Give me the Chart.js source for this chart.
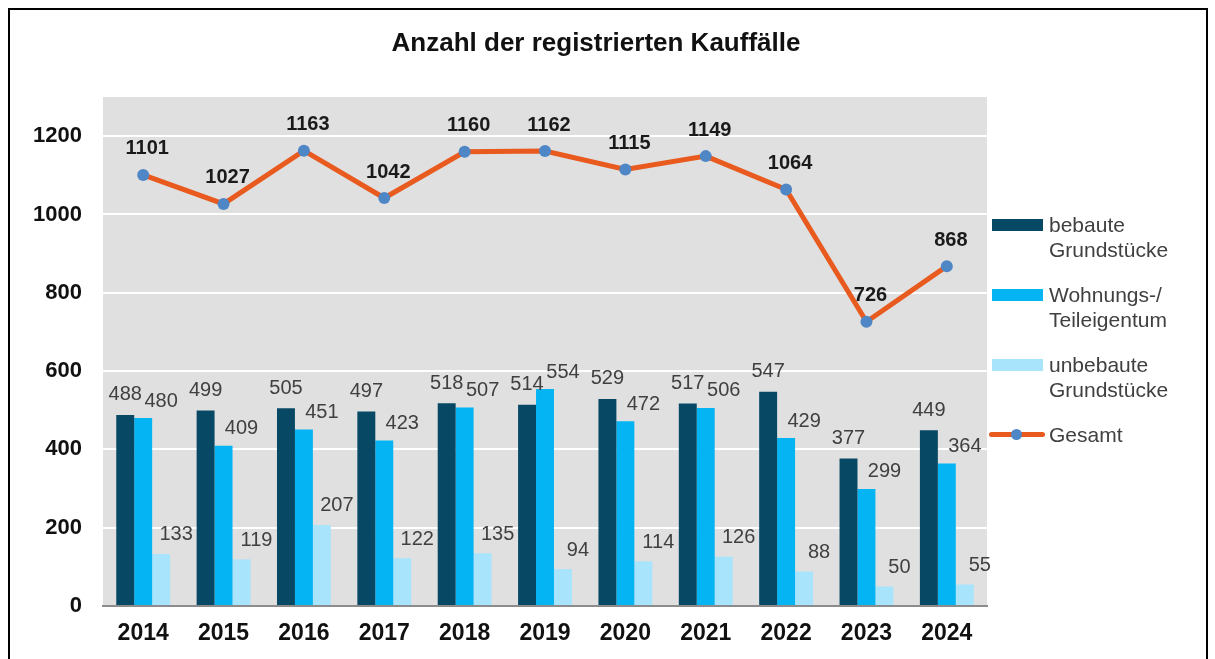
<!DOCTYPE html>
<html lang="de">
<head>
<meta charset="utf-8">
<title>Anzahl der registrierten Kauffälle</title>
<script src="https://cdn.jsdelivr.net/npm/chart.js@4.4.1/dist/chart.umd.min.js"></script>
<style>
  html, body { margin: 0; padding: 0; background: #fff; overflow: hidden; }
  body { width: 1215px; height: 659px; position: relative; font-family: Arial, "Liberation Sans", sans-serif; }
  #frame { position: absolute; left: 8px; top: 8px; width: 1200px; height: 700px; border: 2px solid #000; box-sizing: border-box; }
  #chartBox { position: absolute; left: 0; top: 0; width: 1215px; height: 659px; }
  #title { position: absolute; left: 0; width: 1192px; top: 27px; text-align: center; font-weight: bold; font-size: 26px; color: #111; }
  #legend { position: absolute; left: 989px; top: 210px; }
  .legend-item { position: relative; height: 70px; }
  .legend-swatch { position: absolute; left: 3px; top: 9px; width: 51px; height: 12px; }
  .legend-line { position: absolute; left: 0; top: 12px; width: 56px; height: 5px; border-radius: 3px; }
  .legend-dot { position: absolute; left: 22px; top: 9px; width: 11px; height: 11px; border-radius: 50%; }
  .legend-text { position: absolute; left: 60px; top: 2px; font-size: 21px; line-height: 25px; color: #404040; white-space: pre; }
</style>
</head>
<body>
<div id="frame"></div>
<div id="chartBox"><canvas id="kaufChart"></canvas></div>
<div id="title">Anzahl der registrierten Kauffälle</div>
<div id="legend"></div>

<script>
// Kauffälle je Jahr
const years = ['2014', '2015', '2016', '2017', '2018', '2019', '2020', '2021', '2022', '2023', '2024'];
const bebaute = [488, 499, 505, 497, 518, 514, 529, 517, 547, 377, 449];
const wohnungseigentum = [480, 409, 451, 423, 507, 554, 472, 506, 429, 299, 364];
const unbebaute = [133, 119, 207, 122, 135, 94, 114, 126, 88, 50, 55];
const gesamt = [1101, 1027, 1163, 1042, 1160, 1162, 1115, 1149, 1064, 726, 868];
const yTicks = [0, 200, 400, 600, 800, 1000, 1200];

const FONT = 'Arial, "Liberation Sans", sans-serif';

// grey plot background
const plotBackground = {
  id: 'plotBackground',
  beforeDraw(chart) {
    const { ctx, chartArea } = chart;
    ctx.save();
    ctx.fillStyle = '#e0e0e0';
    ctx.fillRect(chartArea.left, chartArea.top, chartArea.right - chartArea.left, chartArea.bottom - chartArea.top);
    ctx.restore();
  }
};

// value labels above bars and points
const valueLabels = {
  id: 'valueLabels',
  afterDatasetsDraw(chart) {
    const ctx = chart.ctx;
    ctx.save();
    chart.data.datasets.forEach((ds, i) => {
      const meta = chart.getDatasetMeta(i);
      if (meta.hidden) return;
      const lbl = ds.valueLabel;
      ctx.font = lbl.font;
      ctx.fillStyle = lbl.color;
      ctx.textAlign = 'center';
      ctx.textBaseline = 'middle';
      meta.data.forEach((el, j) => {
        ctx.fillText(String(ds.data[j]), el.x + lbl.dx, el.y + lbl.dy);
      });
    });
    ctx.restore();
  }
};

// Initialize chart
function initializeChart() {
  const ctx = document.getElementById('kaufChart').getContext('2d');

  return new Chart(ctx, {
    type: 'bar',
    data: {
      labels: years,
      datasets: [
        {
          type: 'line',
          label: 'Gesamt',
          data: gesamt,
          order: 0,
          borderColor: '#e85a1e',
          borderWidth: 5,
          pointBackgroundColor: '#4f86c6',
          pointBorderWidth: 0,
          pointRadius: 6,
          tension: 0,
          valueLabel: { font: 'bold 20px ' + FONT, color: '#1a1a1a', dx: 4, dy: -26 }
        },
        {
          label: 'bebaute\nGrundstücke',
          data: bebaute,
          order: 1,
          backgroundColor: '#074864',
          valueLabel: { font: '20px ' + FONT, color: '#404040', dx: 0, dy: -20 }
        },
        {
          label: 'Wohnungs-/\nTeileigentum',
          data: wohnungseigentum,
          order: 1,
          backgroundColor: '#05b4f3',
          valueLabel: { font: '20px ' + FONT, color: '#404040', dx: 18, dy: -17 }
        },
        {
          label: 'unbebaute\nGrundstücke',
          data: unbebaute,
          order: 1,
          backgroundColor: '#a8e4fc',
          valueLabel: { font: '20px ' + FONT, color: '#404040', dx: 15, dy: -19 }
        }
      ]
    },
    options: {
      responsive: true,
      maintainAspectRatio: false,
      animation: false,
      layout: { padding: { top: 97, right: 228, left: 0, bottom: 0 } },
      datasets: {
        bar: { barPercentage: 1, categoryPercentage: 0.67 }
      },
      scales: {
        x: {
          grid: { display: false, drawTicks: false },
          border: { display: true, color: '#8c8c8c', width: 2 },
          ticks: { color: '#111', font: { family: FONT, size: 23, weight: 'bold' }, padding: 14 },
          afterFit(scale) { scale.height = 53; }
        },
        y: {
          min: 0,
          max: 1300,
          afterBuildTicks(scale) { scale.ticks = yTicks.map(v => ({ value: v })); },
          grid: {
            color: ctx => (ctx.tick && ctx.tick.value === 0 ? 'rgba(0,0,0,0)' : '#ffffff'),
            lineWidth: 2,
            drawTicks: false
          },
          border: { display: false },
          ticks: {
            color: '#111',
            font: { family: FONT, size: 22, weight: 'bold' },
            padding: 21,
            callback: value => String(value)
          },
          afterFit(scale) { scale.width = 103; }
        }
      },
      plugins: {
        legend: { display: false },
        title: { display: false },
        tooltip: { enabled: false }
      }
    },
    plugins: [plotBackground, valueLabels]
  });
}

// HTML legend built from the datasets (bars first, line last)
function buildLegend(chart) {
  const box = document.getElementById('legend');
  const sets = chart.data.datasets.filter(d => d.type !== 'line').concat(chart.data.datasets.filter(d => d.type === 'line'));
  box.innerHTML = sets.map(ds => {
    const mark = ds.type === 'line'
      ? `<div class="legend-line" style="background:${ds.borderColor}"></div><div class="legend-dot" style="background:${ds.pointBackgroundColor}"></div>`
      : `<div class="legend-swatch" style="background:${ds.backgroundColor}"></div>`;
    return `<div class="legend-item">${mark}<div class="legend-text">${ds.label}</div></div>`;
  }).join('');
}

const chart = initializeChart();
buildLegend(chart);
</script>
</body>
</html>
